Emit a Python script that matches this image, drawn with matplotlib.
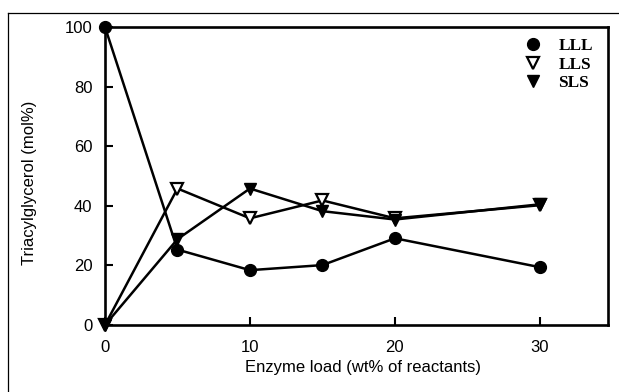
import matplotlib
matplotlib.use('Agg')
import matplotlib.pyplot as plt
from matplotlib.lines import Line2D

# Datos
enzyme_load = [0, 5, 10, 15, 20, 30]
lll = [100, 25.3, 18.4, 20.1, 29.1, 19.4]
lls = [0, 45.8, 35.8, 41.8, 35.8, 40.2]
sls = [0, 28.8, 45.8, 38.2, 35.4, 40.5]

series_names = ['LLL', 'LLS', 'SLS']
y_ticks = [0, 20, 40, 60, 80, 100]
x_ticks = [0, 10, 20, 30]

plt.rcParams['font.family'] = ['Liberation Sans', 'DejaVu Sans']

fig = plt.figure(figsize=(6.19, 3.92), dpi=100)
ax = fig.add_axes([105/619, 1 - 325/392, 503/619, 298/392])

ms = 8.5
lw = 1.8
h1, = ax.plot(enzyme_load, lll, color='black', lw=lw, marker='o', ms=ms,
              clip_on=False, zorder=3)
h2, = ax.plot(enzyme_load, lls, color='black', lw=lw, marker='v', ms=ms,
              mfc='white', mew=1.6, clip_on=False, zorder=4)
h3, = ax.plot(enzyme_load, sls, color='black', lw=lw, marker='v', ms=ms,
              clip_on=False, zorder=5)

ax.set_xlim(0, 34.7)
ax.set_ylim(0, 100)
ax.set_xticks(x_ticks)
ax.set_yticks(y_ticks)

for s in ax.spines.values():
    s.set_linewidth(1.9)
ax.tick_params(direction='in', length=6, width=1.5, labelsize=12)
ax.tick_params(axis='x', pad=11)
ax.tick_params(axis='y', pad=9)

ax.set_xlabel('Enzyme load (wt% of reactants)', fontsize=12)
ax.set_ylabel('Triacylglycerol (mol%)', fontsize=12)
ax.xaxis.set_label_coords(0.512, -0.117)
ax.yaxis.set_label_coords(-0.135, 0.477)

# Leyenda solo con marcadores
handles = [Line2D([], [], color='black', marker='o', ls='none', ms=8.5),
           Line2D([], [], color='black', marker='v', ls='none', ms=8, mfc='white', mew=1.6),
           Line2D([], [], color='black', marker='v', ls='none', ms=8)]
fig.legend(handles, series_names, loc='upper left',
           bbox_to_anchor=(516/619, 1 - 29/392), frameon=False,
           borderpad=0, handlelength=1.0, handletextpad=0.95, labelspacing=0.15,
           prop={'family': 'Liberation Serif', 'weight': 'bold', 'size': 12.5})

# Marco exterior del escaneo
fig.add_artist(Line2D([8/619, 8/619], [0, 1 - 13/392], color='black', lw=0.9))
fig.add_artist(Line2D([8/619, 1], [1 - 13/392, 1 - 13/392], color='black', lw=0.9))

fig.savefig('out.png', dpi=100)
